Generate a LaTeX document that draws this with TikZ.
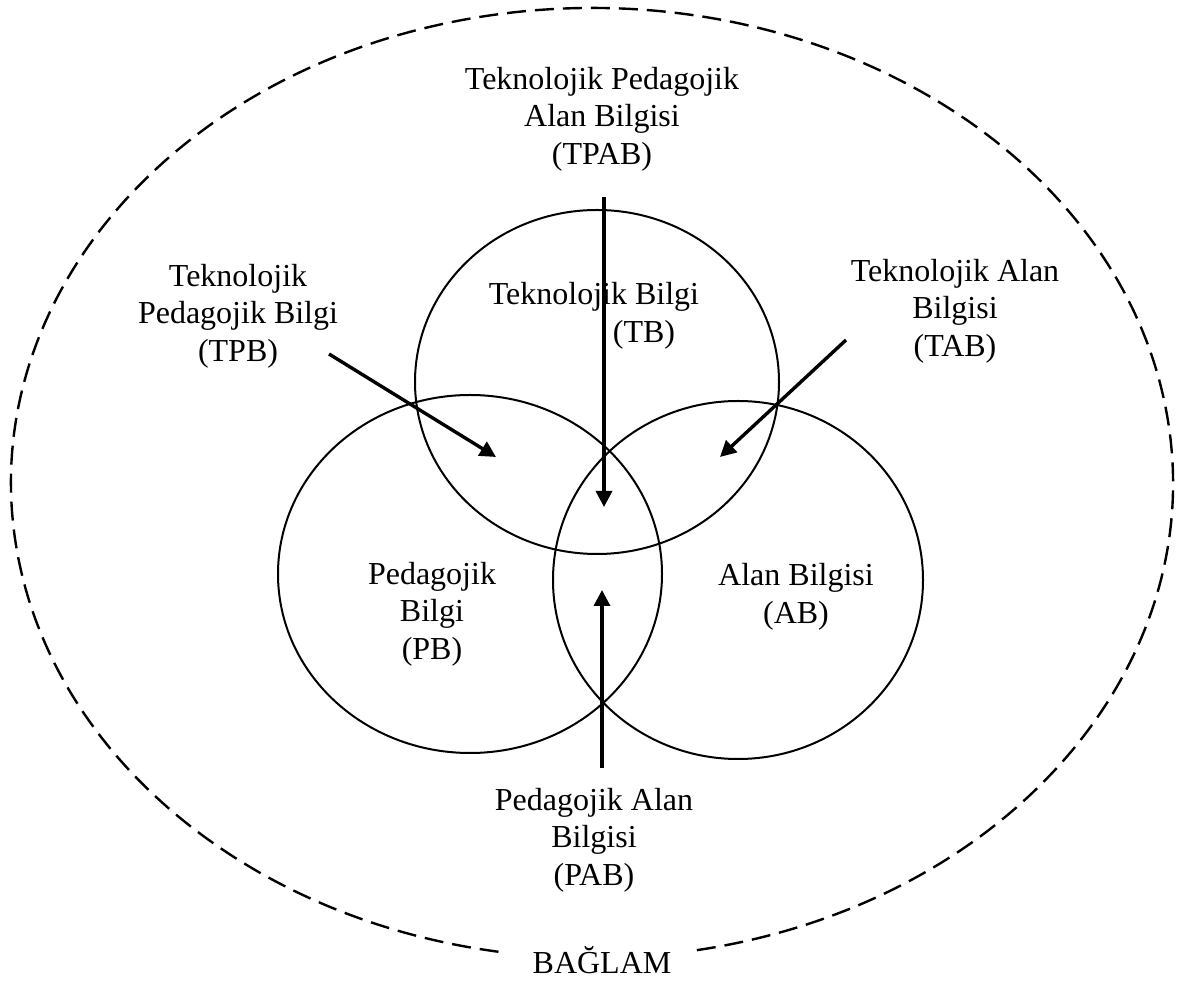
\documentclass[tikz,border=0pt]{standalone}
\usepackage{fontspec}
\setmainfont{Liberation Serif}
\usetikzlibrary{arrows.meta,positioning}

\begin{document}
\begin{tikzpicture}[x=0.5pt,y=0.5pt,
  lbl/.style={align=center,font=\fontsize{16}{18.75}\selectfont,inner sep=0pt},
  ring/.style={line width=1pt},
  arr/.style={line width=1.7pt,-{Triangle[length=8pt,width=8pt]}}]
  \useasboundingbox (0,0) rectangle (1178,980);
  % context ring, open at the bottom for its label
  \coordinate (ctx) at (592,497);
  \draw[line width=1.2pt,dash pattern=on 9.5pt off 4.5pt]
    ([shift={(-79.6:581 and 475)}]ctx) arc[start angle=-79.6,end angle=261.4,x radius=581,y radius=475];
  \node[lbl] (baglam) at (602,20) {BAĞLAM};

  % the three knowledge areas
  \coordinate (tbc) at (597,598);
  \coordinate (pbc) at (470,406);
  \coordinate (abc) at (738,400);
  \draw[ring] (tbc) ellipse[x radius=182,y radius=172];
  \draw[ring] (pbc) ellipse[x radius=192,y radius=179];
  \draw[ring] (abc) ellipse[x radius=185,y radius=179];

  \node[lbl] (tb) at (594,664) {Teknolojik Bilgi\\\hspace*{50pt}(TB)};
  \node[lbl] (pb) at (432,366) {Pedagojik\\Bilgi\\(PB)};
  \node[lbl] (ab) at (796,383) {Alan Bilgisi\\(AB)};

  % overlaps
  \node[lbl] (tpab) at (602,861) {Teknolojik Pedagojik\\Alan Bilgisi\\(TPAB)};
  \node[lbl] (tpb) at (238,664) {Teknolojik\\Pedagojik Bilgi\\(TPB)};
  \node[lbl] (tab) at (955,669) {Teknolojik Alan\\Bilgisi\\(TAB)};
  \node[lbl] (pab) at (594,140) {Pedagojik Alan\\Bilgisi\\(PAB)};

  \coordinate (tpab-s) at (604,783);
  \coordinate (tpab-e) at (604,473);
  \coordinate (tpb-s) at (329,626);
  \coordinate (tpb-e) at (496,523);
  \coordinate (tab-s) at (846,640);
  \coordinate (tab-e) at (720,523);
  \coordinate (pab-s) at (602,212);
  \coordinate (pab-e) at (602,390);
  \draw[arr] (tpab-s) -- (tpab-e);
  \draw[arr] (tpb-s) -- (tpb-e);
  \draw[arr] (tab-s) -- (tab-e);
  \draw[arr] (pab-s) -- (pab-e);
\end{tikzpicture}
\end{document}
